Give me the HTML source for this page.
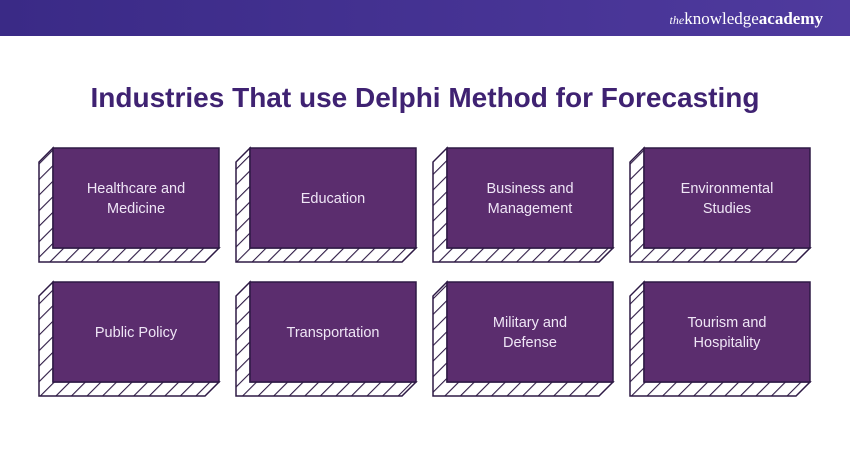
<!DOCTYPE html>
<html><head><meta charset="utf-8"><style>
body{margin:0;width:850px;height:450px;overflow:hidden;background:#fff;font-family:"Liberation Sans",sans-serif}
</style></head><body>
<svg width="850" height="450" xmlns="http://www.w3.org/2000/svg">
<defs>
<linearGradient id="hg" x1="0" x2="1"><stop offset="0" stop-color="#3a2a86"/><stop offset="1" stop-color="#4f3a9e"/></linearGradient>
<pattern id="hat" patternUnits="userSpaceOnUse" width="11" height="11" patternTransform="rotate(45)">
<rect width="11" height="11" fill="#fff"/><line x1="0" y1="0" x2="0" y2="11" stroke="#2e1a45" stroke-width="2.2"/></pattern>
</defs>
<rect width="850" height="36" fill="url(#hg)"/>
<text x="823" y="24" text-anchor="end" fill="#fff" font-family="Liberation Serif,serif" font-size="17"><tspan font-style="italic" font-size="12">the</tspan>knowledge<tspan font-weight="bold">academy</tspan></text>
<text x="425" y="107" text-anchor="middle" fill="#3f2272" font-size="28" font-weight="bold">Industries That use Delphi Method for Forecasting</text>
<g font-size="14.5" fill="#efe6f6" text-anchor="middle">
<g id="boxes"></g>
</g>
</svg>
<script>
const labels=[["Healthcare and","Medicine"],["Education"],["Business and","Management"],["Environmental","Studies"],["Public Policy"],["Transportation"],["Military and","Defense"],["Tourism and","Hospitality"]];
let s="";
labels.forEach((l,i)=>{
 const x=53+197*(i%4), y=148+134*Math.floor(i/4), w=166, h=100, d=14;
 s+=`<polygon points="${x},${y} ${x-d},${y+d} ${x-d},${y+h+d} ${x+w-d},${y+h+d} ${x+w},${y+h} ${x},${y+h}" fill="url(#hat)" stroke="#2e1a45" stroke-width="1.5"/>`;
 s+=`<rect x="${x}" y="${y}" width="${w}" height="${h}" fill="#5b2d6e" stroke="#2e1a45" stroke-width="1.5"/>`;
 const cx=x+w/2, cy=y+h/2;
 if(l.length==1) s+=`<text x="${cx}" y="${cy+5}" fill="#efe6f6">${l[0]}</text>`;
 else s+=`<text x="${cx}" y="${cy-5}" fill="#efe6f6">${l[0]}</text><text x="${cx}" y="${cy+15}" fill="#efe6f6">${l[1]}</text>`;
});
document.getElementById("boxes").innerHTML=s;
</script>
</body></html>
